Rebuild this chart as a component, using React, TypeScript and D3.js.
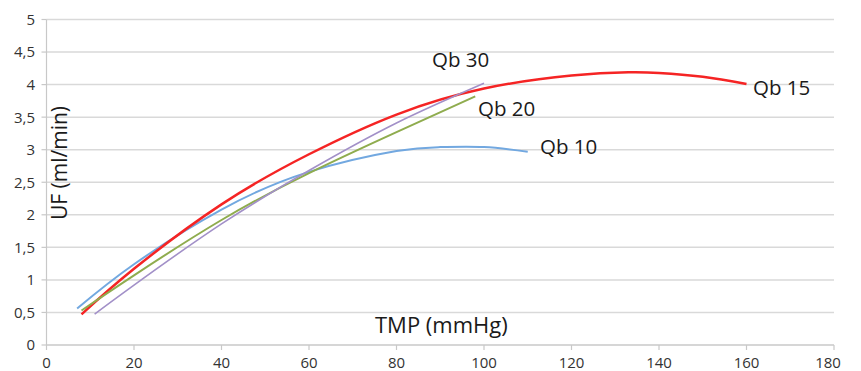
import React from "react";
import * as d3 from "d3";

const xTicks = [0, 20, 40, 60, 80, 100, 120, 140, 160, 180];
const yTicks = [0, 0.5, 1, 1.5, 2, 2.5, 3, 3.5, 4, 4.5, 5];
const yTickLabels = ["0", "0,5", "1", "1,5", "2", "2,5", "3", "3,5", "4", "4,5", "5"];

const qb10X = [7, 20, 40, 60, 80, 90, 100, 110];
const qb10Y = [0.56, 1.24, 2.08, 2.66, 2.98, 3.04, 3.04, 2.97];

const qb15X = [8, 20, 40, 60, 80, 100, 120, 133, 140, 150, 160];
const qb15Y = [0.47, 1.17, 2.16, 2.93, 3.54, 3.94, 4.14, 4.19, 4.18, 4.12, 4.01];

const qb20X = [8, 20, 40, 60, 80, 98];
const qb20Y = [0.53, 1.07, 1.92, 2.64, 3.27, 3.82];

const qb30X = [11, 20, 40, 60, 80, 100];
const qb30Y = [0.475, 0.92, 1.86, 2.68, 3.41, 4.02];

const seriesNames = ["Qb 10", "Qb 15", "Qb 20", "Qb 30"];
const seriesColors = ["#72a8e0", "#f52424", "#8fac4e", "#a290c8"];
const seriesWidths = [2, 2.5, 2, 1.6];

export default function App() {
  const W = 861;
  const H = 371;
  const x = d3.scaleLinear().domain([0, 180]).range([46.5, 834]);
  const y = d3.scaleLinear().domain([0, 5]).range([345, 19.5]);

  const line = d3
    .line<[number, number]>()
    .x((d) => x(d[0]))
    .y((d) => y(d[1]))
    .curve(d3.curveNatural);

  const series = [
    [qb10X, qb10Y],
    [qb15X, qb15Y],
    [qb20X, qb20Y],
    [qb30X, qb30Y],
  ].map(([xs, ys]) => xs.map((v, i) => [v, ys[i]] as [number, number]));

  const font = "'Open Sans', 'Noto Sans', sans-serif";

  const labelPos: [number, number][] = [
    [540, 154],
    [753, 95],
    [478, 116],
    [432, 67],
  ];

  return (
    <svg
      width={W}
      height={H}
      style={{ position: "absolute", left: 0, top: 0, background: "#fff" }}
      fontFamily={font}
    >
      <rect width={W} height={H} fill="#fff" />
      {yTicks.map((t) =>
        t === 0 ? null : (
          <line
            key={"g" + t}
            x1={x(0)}
            x2={x(180)}
            y1={y(t)}
            y2={y(t)}
            stroke="#d9d9d9"
            strokeWidth={1.5}
          />
        )
      )}
      <line x1={x(0)} x2={x(0)} y1={y(0)} y2={y(5)} stroke="#c8c8c8" strokeWidth={1.2} />
      <line x1={x(0)} x2={x(180)} y1={y(0)} y2={y(0)} stroke="#c8c8c8" strokeWidth={1.5} />
      {yTicks.map((t, i) => (
        <g key={"yt" + t}>
          <line x1={x(0) - 5} x2={x(0)} y1={y(t)} y2={y(t)} stroke="#c8c8c8" strokeWidth={1.2} />
          <text
            x={35}
            y={y(t)}
            dy="0.36em"
            textAnchor="end"
            fontSize={15}
            fill="#333"
          >
            {yTickLabels[i]}
          </text>
        </g>
      ))}
      {xTicks.map((t) => (
        <g key={"xt" + t}>
          <line x1={x(t)} x2={x(t)} y1={y(0)} y2={y(0) + 5} stroke="#c8c8c8" strokeWidth={1.2} />
          <text
            x={t === 180 ? x(t) - 6 : x(t)}
            y={368}
            textAnchor="middle"
            fontSize={15}
            fill="#333"
          >
            {t}
          </text>
        </g>
      ))}
      {series.map((pts, i) => (
        <path
          key={seriesNames[i]}
          d={line(pts) || ""}
          fill="none"
          stroke={seriesColors[i]}
          strokeWidth={seriesWidths[i]}
        />
      ))}
      {seriesNames.map((n, i) => (
        <text
          key={"l" + n}
          x={labelPos[i][0]}
          y={labelPos[i][1]}
          fontSize={20.5}
          fill="#1a1a1a"
        >
          {n}
        </text>
      ))}
      <text x={375} y={333} textAnchor="start" fontSize={22} fill="#1a1a1a">
        TMP (mmHg)
      </text>
      <text
        transform={`translate(67,163) rotate(-90)`}
        textAnchor="middle"
        fontSize={21}
        fill="#1a1a1a"
      >
        UF (ml/min)
      </text>
    </svg>
  );
}
